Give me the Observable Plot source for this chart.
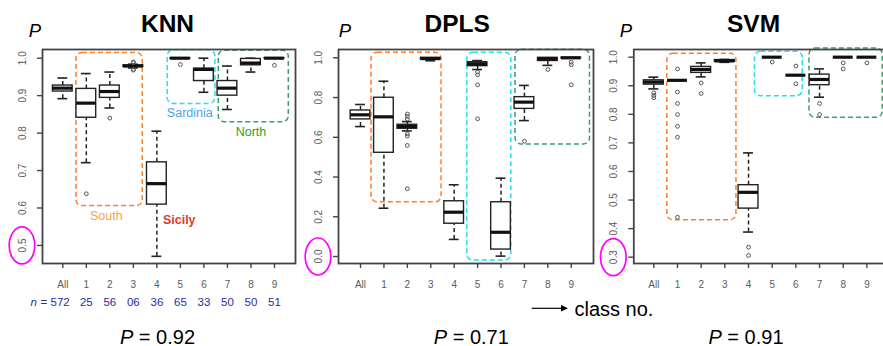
<!DOCTYPE html>
<html><head><meta charset="utf-8">
<script src="https://cdn.jsdelivr.net/npm/d3@7"></script>
<script src="https://cdn.jsdelivr.net/npm/@observablehq/plot@0.6"></script>
<style>
html,body{margin:0;padding:0;background:#fff;}
#chart{position:relative;width:883px;height:346px;overflow:hidden;background:#fff;font-family:"Liberation Sans",Arial,sans-serif;}
#chart svg{position:absolute;top:0;}
</style></head><body><div id="chart"></div>
<script>
// ---------- data ----------
const classes = ["All","1","2","3","4","5","6","7","8","9"];
const knnN = ["572","25","56","06","36","65","33","50","50","51"];

// KNN five-number summaries per class
const knnLow = [0.892, 0.721, 0.867, 0.974, 0.471, 1.000, 0.909, 0.863, 0.963, 1.000];
const knnQ1  = [0.911, 0.841, 0.894, 0.977, 0.609, 0.999, 0.939, 0.900, 0.981, 0.999];
const knnMed = [0.920, 0.880, 0.911, 0.979, 0.665, 1.000, 0.970, 0.920, 0.987, 1.000];
const knnQ3  = [0.927, 0.918, 0.927, 0.981, 0.722, 1.000, 0.972, 0.939, 0.998, 1.000];
const knnHigh= [0.947, 0.959, 0.963, 0.984, 0.805, 1.000, 1.000, 0.979, 1.000, 1.000];
const knnOut = [[], [0.638], [0.840], [0.990, 0.988, 0.970, 0.968], [], [0.983], [], [], [], [0.981]];

// DPLS
const dplsLow = [0.654, 0.243, 0.632, 0.985, 0.086, 0.941, 0.002, 0.684, 0.962, 1.000];
const dplsQ1  = [0.690, 0.522, 0.643, 0.992, 0.165, 0.958, 0.035, 0.743, 0.984, 0.998];
const dplsMed = [0.713, 0.703, 0.654, 0.996, 0.223, 0.970, 0.122, 0.777, 0.995, 1.000];
const dplsQ3  = [0.735, 0.799, 0.663, 1.000, 0.278, 0.978, 0.273, 0.802, 1.000, 1.000];
const dplsHigh= [0.765, 0.882, 0.679, 1.000, 0.361, 0.986, 0.394, 0.861, 1.000, 1.000];
const dplsOut = [[], [], [0.717, 0.705, 0.692, 0.617, 0.606, 0.559, 0.341], [], [],
                 [0.928, 0.914, 0.864, 0.693], [], [0.580], [0.941], [0.978, 0.965, 0.864]];

// SVM
const svmLow = [0.889, 0.919, 0.931, 0.982, 0.388, 1.000, 0.937, 0.860, 1.000, 1.000];
const svmQ1  = [0.904, 0.919, 0.945, 0.984, 0.470, 1.000, 0.937, 0.902, 1.000, 1.000];
const svmMed = [0.913, 0.919, 0.957, 0.987, 0.527, 1.000, 0.937, 0.922, 1.000, 1.000];
const svmQ3  = [0.919, 0.919, 0.966, 0.990, 0.552, 1.000, 0.937, 0.939, 1.000, 1.000];
const svmHigh= [0.930, 0.919, 0.980, 0.992, 0.665, 1.000, 0.937, 0.959, 1.000, 1.000];
const svmOut = [[0.875, 0.866, 0.858], [0.959, 0.878, 0.838, 0.799, 0.758, 0.720, 0.440],
                [0.910, 0.873], [], [0.335, 0.306], [0.983], [0.969, 0.907], [0.838, 0.799],
                [0.980, 0.959], [0.980]];

// y tick values
const knnTicks  = [0.5, 0.6, 0.7, 0.8, 0.9, 1.0];
const dplsTicks = [0.0, 0.2, 0.4, 0.6, 0.8, 1.0];
const svmTicks  = [0.3, 0.4, 0.5, 0.6, 0.7, 0.8, 0.9, 1.0];

// overall accuracies
const overallP = ["0.92", "0.71", "0.91"];

// region annotations (in class-index / P units)
const knnRegions  = [{name: "South", x1: 0.58, x2: 3.40, y1: 0.605, y2: 1.014},
                     {name: "Sardinia", x1: 4.46, x2: 6.49, y1: 0.878, y2: 1.021},
                     {name: "North", x1: 6.63, x2: 9.61, y1: 0.829, y2: 1.020}];
const dplsRegions = [{name: "South", x1: 0.47, x2: 3.46, y1: 0.273, y2: 1.025},
                     {name: "Sardinia", x1: 4.56, x2: 6.44, y1: -0.020, y2: 1.025},
                     {name: "North", x1: 6.62, x2: 9.80, y1: 0.564, y2: 1.040}];
const svmRegions  = [{name: "South", x1: 0.57, x2: 3.49, y1: 0.4295, y2: 1.012},
                     {name: "Sardinia", x1: 4.27, x2: 6.29, y1: 0.8635, y2: 1.019},
                     {name: "North", x1: 6.575, x2: 9.67, y1: 0.788, y2: 1.030}];
const knnRegionLabels = [{name: "South", x: 1.85, y: 0.578}, {name: "Sardinia", x: 5.40, y: 0.854},
                         {name: "North", x: 8.0, y: 0.803}, {name: "Sicily", x: 4.95, y: 0.569}];

// ---------- styles ----------
const regionStroke = {South: "#FF7F2A", Sardinia: "#22E0EE", North: "#3E9C6E"};
const labelFill = {South: "#F7A445", Sardinia: "#4AA3F2", North: "#2CA02C", Sicily: "#E63A27"};
const FONT = "Liberation Sans, Arial, sans-serif";

function panel(cfg) {
  const rows = classes.map((label, i) => ({i, label,
    lo: cfg.lo[i], q1: cfg.q1[i], med: cfg.med[i], q3: cfg.q3[i], hi: cfg.hi[i]}));
  const outs = cfg.out.flatMap((vs, i) => vs.map(v => ({i, v})));
  const BW = 0.42, SW = 0.21;
  const ml = cfg.ml, mt = 49, mb = 83;
  const fmt = d3.format(".1f");
  const marks = [];

  for (const r of cfg.regions) {
    marks.push(Plot.rect([r], {x1: "x1", x2: "x2", y1: "y1", y2: "y2", rx: 6, ry: 6,
      fill: "none", stroke: regionStroke[r.name], strokeWidth: 1.5, strokeDasharray: "5,3"}));
  }
  for (const l of (cfg.regionLabels || [])) {
    marks.push(Plot.text([l], {x: "x", y: "y", text: "name", fill: labelFill[l.name],
      fontSize: 12.5, fontWeight: l.name === "Sicily" ? "bold" : "normal", lineAnchor: "middle"}));
  }
  // whiskers
  marks.push(Plot.ruleX(rows, {x: "i", y1: "q3", y2: "hi", stroke: "#222", strokeWidth: 1.5, strokeDasharray: "4,3"}));
  marks.push(Plot.ruleX(rows, {x: "i", y1: "lo", y2: "q1", stroke: "#222", strokeWidth: 1.5, strokeDasharray: "4,3"}));
  marks.push(Plot.ruleY(rows, {y: "hi", x1: d => d.i - SW, x2: d => d.i + SW, stroke: "#222", strokeWidth: 1.6}));
  marks.push(Plot.ruleY(rows, {y: "lo", x1: d => d.i - SW, x2: d => d.i + SW, stroke: "#222", strokeWidth: 1.6}));
  // boxes
  marks.push(Plot.rect(rows, {x1: d => d.i - BW, x2: d => d.i + BW, y1: "q1", y2: "q3",
    fill: "white", stroke: "#222", strokeWidth: 1.4}));
  marks.push(Plot.ruleY(rows, {y: "med", x1: d => d.i - BW, x2: d => d.i + BW, stroke: "#111", strokeWidth: 3.2}));
  // outliers
  marks.push(Plot.dot(outs, {x: "i", y: "v", r: 1.9, stroke: "#555", strokeWidth: 1, fill: "none"}));
  // frame & axes
  marks.push(Plot.frame({stroke: "#444", strokeWidth: 1.8}));
  marks.push(Plot.axisY({ticks: cfg.yTicks, tickSize: 5, tickFormat: () => "", label: null, stroke: "#444", strokeWidth: 1.4}));
  marks.push(Plot.axisX({ticks: d3.range(classes.length), tickSize: 5, tickFormat: () => "", label: null, stroke: "#444", strokeWidth: 1.4}));
  marks.push(Plot.text(cfg.yTicks, {y: d => d, text: d => fmt(d), frameAnchor: "left", dx: -20, rotate: -90,
    textAnchor: "middle", lineAnchor: "middle", fontSize: 10, fill: "#5a5a5a"}));
  marks.push(Plot.text(rows, {x: "i", text: "label", frameAnchor: "bottom", dy: 21, lineAnchor: "middle",
    fontSize: 10, fill: "#5a5a5a"}));
  // highlighted lowest tick label
  marks.push((index, scales, values, dims) => {
    const e = d3.create("svg:ellipse")
      .attr("cx", dims.marginLeft - 20).attr("cy", scales.y(cfg.yTicks[0]) + 0.5)
      .attr("rx", 12.8).attr("ry", 18.5)
      .attr("fill", "none").attr("stroke", "#FF00FF").attr("stroke-width", 1.7);
    return e.node();
  });
  // titles
  marks.push(Plot.text([cfg.title], {frameAnchor: "top-left", dx: cfg.titleX - cfg.left - ml, dy: 31.7 - mt,
    text: d => d, textAnchor: "middle", lineAnchor: "bottom", fontSize: 24.5, fontWeight: "bold", fill: "#000"}));
  marks.push(Plot.text(["P"], {frameAnchor: "top-left", dx: cfg.pX - cfg.left - ml, dy: 36.7 - mt,
    text: d => d, textAnchor: "start", lineAnchor: "bottom", fontSize: 18.5, fontStyle: "italic", fill: "#000"}));
  // overall P
  const pAnchor = cfg.pvX - 24.2 - cfg.left - ml;
  marks.push(Plot.text(["P"], {frameAnchor: "bottom-left", dx: pAnchor, dy: 343 - 263, text: d => d,
    textAnchor: "end", lineAnchor: "bottom", fontSize: 20, fontStyle: "italic", fill: "#000"}));
  marks.push(Plot.text([cfg.pValue], {frameAnchor: "bottom-left", dx: pAnchor, dy: 343 - 263, text: d => "\u00a0=\u00a0" + d,
    textAnchor: "start", lineAnchor: "bottom", fontSize: 20, fill: "#000"}));
  // n row
  if (cfg.n) {
    const nRows = classes.map((c, i) => ({i, n: cfg.n[i]}));
    marks.push(Plot.text(nRows.slice(1), {x: "i", text: "n", frameAnchor: "bottom", dy: 38.7, lineAnchor: "middle",
      fontSize: 11.5, fill: "#2B2BA3"}));
    marks.push(Plot.text(nRows.slice(0, 1), {x: "i", text: d => "=\u00a0" + d.n, frameAnchor: "bottom", dy: 38.7, dx: 6.9,
      textAnchor: "end", lineAnchor: "middle", fontSize: 11.5, fill: "#2B2BA3"}));
    marks.push(Plot.text(nRows.slice(0, 1), {x: "i", text: d => "n", frameAnchor: "bottom", dy: 38.7, dx: -26,
      textAnchor: "end", lineAnchor: "middle", fontSize: 11.5, fontStyle: "italic", fill: "#2B2BA3"}));
  }
  // class no. arrow
  if (cfg.classArrow) {
    marks.push((index, scales, values, dims) => {
      const g = d3.create("svg:g");
      const ox = -cfg.left, y0 = 308.3;
      g.append("line").attr("x1", 531.7 + ox).attr("x2", 563 + ox).attr("y1", y0).attr("y2", y0)
        .attr("stroke", "#000").attr("stroke-width", 1.2);
      g.append("path").attr("d", `M${568 + ox},${y0}L${561 + ox},${y0 - 3.3}L${561 + ox},${y0 + 3.3}Z`).attr("fill", "#000");
      return g.node();
    });
    marks.push(Plot.text(["class no."], {frameAnchor: "bottom-left", dx: 574 - cfg.left - ml, dy: 315 - 263,
      text: d => d, textAnchor: "start", lineAnchor: "bottom", fontSize: 20, fill: "#000"}));
  }

  const svg = Plot.plot({
    width: cfg.width, height: 346,
    marginLeft: ml, marginRight: cfg.mr, marginTop: mt, marginBottom: mb,
    x: {domain: cfg.xDomain},
    y: {domain: cfg.yDomain},
    style: {background: "transparent", overflow: "visible", fontFamily: FONT},
    marks
  });
  svg.style.left = cfg.left + "px";
  return svg;
}

const chart = document.getElementById("chart");
chart.append(panel({title: "KNN", left: 0, width: 300, ml: 42, mr: 5,
  xDomain: [-0.863, 9.894], yDomain: [0.4518, 1.0232], yTicks: knnTicks,
  lo: knnLow, q1: knnQ1, med: knnMed, q3: knnQ3, hi: knnHigh, out: knnOut,
  regions: knnRegions, regionLabels: knnRegionLabels, n: knnN,
  titleX: 167, pX: 28.3, pvX: 157, pValue: overallP[0]}));
chart.append(panel({title: "SVM", left: 596, width: 292, ml: 37.3, mr: 3,
  xDomain: [-0.845, 9.785], yDomain: [0.2779, 1.0269], yTicks: svmTicks,
  lo: svmLow, q1: svmQ1, med: svmMed, q3: svmQ3, hi: svmHigh, out: svmOut,
  regions: svmRegions,
  titleX: 753, pX: 619.3, pvX: 745.5, pValue: overallP[2]}));
chart.append(panel({title: "DPLS", left: 300, width: 300, ml: 38, mr: 7,
  xDomain: [-0.94, 9.95], yDomain: [-0.0352, 1.0418], yTicks: dplsTicks,
  lo: dplsLow, q1: dplsQ1, med: dplsMed, q3: dplsQ3, hi: dplsHigh, out: dplsOut,
  regions: dplsRegions, classArrow: true,
  titleX: 456.7, pX: 338.3, pvX: 470.8, pValue: overallP[1]}));
</script></body></html>
